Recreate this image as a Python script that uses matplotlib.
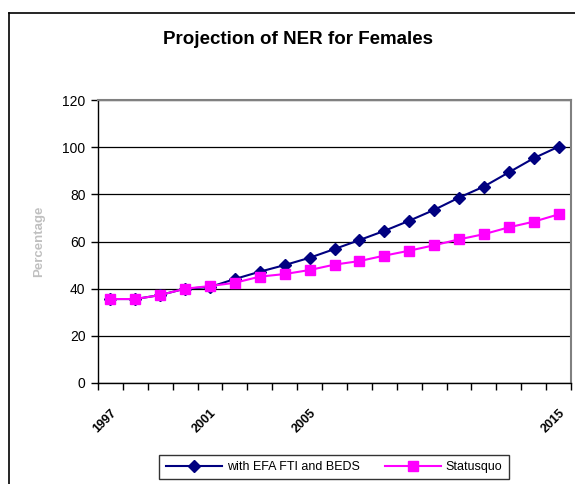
import matplotlib.pyplot as plt
from matplotlib.lines import Line2D
import numpy as np

# Projected NER (%) for females, one value per year 1997-2015
years = list(range(1997, 2016))
shown_years = [1997, 2001, 2005, 2015]
efa_fti_beds = [35.6, 35.6, 37.3, 40.0, 40.7, 44.1, 47.2, 50.0, 53.1, 56.8,
                60.6, 64.5, 68.8, 73.4, 78.6, 83.3, 89.3, 95.3, 100.2]
status_quo = [35.6, 35.6, 37.3, 40.0, 41.1, 42.5, 45.1, 46.2, 47.9, 50.2,
              51.7, 54.0, 56.1, 58.4, 60.9, 63.1, 66.0, 68.4, 71.5]

plt.rcParams['font.family'] = ['Liberation Sans', 'DejaVu Sans']

fig = plt.figure(figsize=(5.75, 4.84), dpi=100)
ax = fig.add_axes([98/575, 1 - 383/484, (571 - 98)/575, (383 - 100)/484])

x = np.arange(len(years))
ax.plot(x, efa_fti_beds, color='#000080', lw=1.5, marker='D', ms=6.5,
        label='with EFA FTI and BEDS', zorder=3)
ax.plot(x, status_quo, color='#FF00FF', lw=1.5, marker='s', ms=7,
        label='Statusquo', zorder=4)

ax.set_ylim(0, 120)
ax.set_yticks(range(0, 121, 20))
ax.set_xlim(-0.5, len(years) - 0.5)

# tick marks sit between categories, labels under a few of them
ax.set_xticks(np.arange(len(years) + 1) - 0.5)
ax.set_xticklabels([])
ax.set_xticks(x, minor=True)
ax.set_xticklabels([str(y) if y in shown_years else '' for y in years],
                   minor=True, rotation=45, ha='right', va='top',
                   fontsize=9, fontweight='bold', rotation_mode='anchor')
ax.tick_params(axis='x', which='major', direction='out', length=5, width=1)
ax.tick_params(axis='x', which='minor', length=0, pad=17)
ax.tick_params(axis='y', direction='out', length=5, width=1, labelsize=10, pad=4)

ax.grid(axis='y', color='black', lw=0.9)
ax.set_axisbelow(True)
for s in ['top', 'right']:
    ax.spines[s].set_color('#808080')
    ax.spines[s].set_linewidth(1.5)
for s in ['left', 'bottom']:
    ax.spines[s].set_color('black')
    ax.spines[s].set_linewidth(1)

ax.set_ylabel('Percentage', color='#c0c0c0', fontsize=9.5, fontweight='bold',
              labelpad=12)

fig.text(298/575, 1 - 40/484, 'Projection of NER for Females', ha='center',
         va='center', fontsize=13.5, fontweight='bold')

leg = fig.legend(loc='center', bbox_to_anchor=(334/575, 1 - 467/484), ncol=2,
                 fontsize=9, frameon=True, fancybox=False, edgecolor='black',
                 handlelength=4.5, borderpad=0.5, columnspacing=2.0,
                 handletextpad=0.4)
leg.get_frame().set_linewidth(1)

# outer chart border
fig.add_artist(Line2D([9/575, 1], [1 - 13/484, 1 - 13/484], color='black', lw=1.2))
fig.add_artist(Line2D([9/575, 9/575], [0, 1 - 13/484], color='black', lw=1.2))

fig.savefig('out.png', dpi=100)
